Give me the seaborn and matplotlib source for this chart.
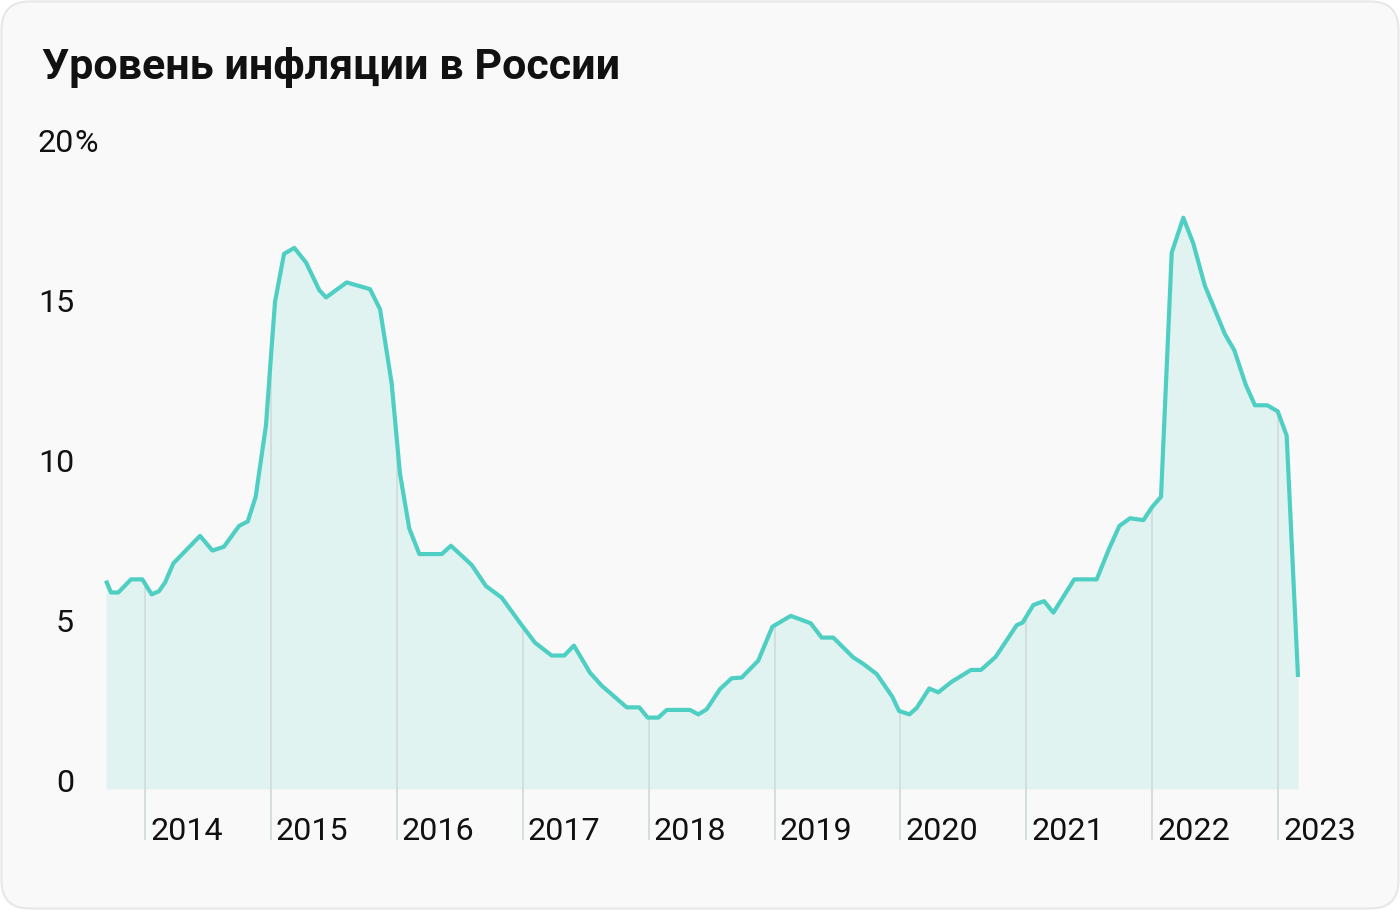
import numpy as np
import pandas as pd
import matplotlib.pyplot as plt
import matplotlib.transforms as mtransforms
from matplotlib.patches import FancyBboxPatch
import seaborn as sns

# Inflation in Russia, % y/y
dates = [2013.690, 2013.730, 2013.788, 2013.889, 2013.979, 2014.053, 2014.111, 2014.159,
         2014.225, 2014.437, 2014.535, 2014.627, 2014.747, 2014.816, 2014.879, 2014.961,
         2015.006, 2015.033, 2015.104, 2015.186, 2015.279, 2015.384, 2015.438, 2015.602,
         2015.787, 2015.867, 2015.959, 2016.025, 2016.099, 2016.179, 2016.357, 2016.430,
         2016.595, 2016.708, 2016.833, 2016.992, 2017.098, 2017.230, 2017.330, 2017.407,
         2017.535, 2017.627, 2017.826, 2017.926, 2017.993, 2018.077, 2018.144, 2018.329,
         2018.395, 2018.461, 2018.567, 2018.660, 2018.739, 2018.871, 2018.983, 2019.129,
         2019.287, 2019.375, 2019.467, 2019.626, 2019.705, 2019.812, 2019.936, 2019.989,
         2020.071, 2020.129, 2020.229, 2020.301, 2020.407, 2020.561, 2020.640, 2020.757,
         2020.924, 2020.971, 2021.056, 2021.141, 2021.215, 2021.381, 2021.559, 2021.659,
         2021.739, 2021.824, 2021.930, 2022.001, 2022.070, 2022.155, 2022.247, 2022.326,
         2022.419, 2022.578, 2022.652, 2022.743, 2022.816, 2022.914, 2022.997, 2023.068,
         2023.158]
inflation = [6.23, 5.86, 5.86, 6.27, 6.27, 5.80, 5.90, 6.17,
             6.77, 7.63, 7.17, 7.29, 7.94, 8.08, 8.85, 11.09,
             13.54, 14.95, 16.44, 16.63, 16.17, 15.31, 15.08, 15.55,
             15.34, 14.71, 12.40, 9.58, 7.86, 7.06, 7.06, 7.32,
             6.72, 6.06, 5.70, 4.84, 4.29, 3.89, 3.89, 4.20,
             3.35, 2.95, 2.27, 2.27, 1.95, 1.95, 2.19, 2.19,
             2.05, 2.21, 2.84, 3.18, 3.20, 3.73, 4.79, 5.13,
             4.90, 4.45, 4.45, 3.83, 3.63, 3.31, 2.60, 2.16,
             2.05, 2.25, 2.86, 2.74, 3.07, 3.44, 3.44, 3.85,
             4.84, 4.92, 5.47, 5.59, 5.23, 6.27, 6.27, 7.24,
             7.94, 8.18, 8.12, 8.54, 8.85, 16.48, 17.57, 16.77,
             15.44, 13.93, 13.43, 12.35, 11.71, 11.71, 11.52, 10.76,
             3.22]
years = [2014, 2015, 2016, 2017, 2018, 2019, 2020, 2021, 2022, 2023]
y_ticks = [0, 5, 10, 15, 20]
y_labels = ["0", "5", "10", "15", "20"]
title = "Уровень инфляции в России"

df = pd.DataFrame({"date": dates, "inflation": inflation})

LINE = "#4fcfc3"
FILL = "#e0f3f0"
GRID = "#d2dcdb"
CARD = "#f9f9f9"

sns.set_theme(style="white")
plt.rcParams["font.family"] = ["Roboto", "DejaVu Sans"]

fig = plt.figure(figsize=(14, 9.1), dpi=100)
fig.patch.set_facecolor("white")

# rounded card background
card = FancyBboxPatch((1.5 / 1400, 1.5 / 910), 1 - 3 / 1400, 1 - 3 / 910,
                      boxstyle="round,pad=0,rounding_size=0.02",
                      transform=fig.transFigure, facecolor=CARD, edgecolor="#e7e7e7",
                      linewidth=1.5, mutation_aspect=1400 / 910, zorder=-10)
fig.patches.append(card)

W, H = 1400, 910
ax = fig.add_axes([90 / W, (H - 850) / H, 1290 / W, 730 / H])
ax.set_zorder(1)
ax.patch.set_alpha(0)
ax.set_xlim(2013.5631, 2023.8093)
ax.set_ylim(-2.1875, 20.625)
for s in ax.spines.values():
    s.set_visible(False)

base = -0.28
label_y = -1.875
fs = 23.2

ax.fill_between(df["date"], base, df["inflation"], color=FILL, linewidth=0, zorder=1)

# year separators from the labels up to the curve
tops = np.interp(years, df["date"], df["inflation"])
ax.vlines(years, label_y, tops, color=GRID, linewidth=1.3, zorder=2)

sns.lineplot(data=df, x="date", y="inflation", sort=False, ax=ax, color=LINE,
             linewidth=3, zorder=3)
ax.lines[-1].set_solid_capstyle("butt")

ax.set_xticks([])
ax.set_yticks(y_ticks)
ax.set_yticklabels(y_labels)
ax.tick_params(axis="y", length=0, pad=11.5, labelsize=fs, labelcolor="#111111")
ax.set_xlabel("")
ax.set_ylabel("")

# "%" after the top label
ax.annotate("%", xy=(0, 20), xycoords=("axes fraction", "data"),
            xytext=(-11.2, 0), textcoords="offset points",
            ha="left", va="center_baseline", fontsize=fs, color="#111111")

shift = mtransforms.offset_copy(ax.transData, fig=fig, x=5, y=0, units="dots")
for yr in years:
    ax.text(yr, label_y, str(yr), transform=shift, ha="left", va="baseline",
            fontsize=fs, color="#111111")

fig.text(42 / W, 1 - 79 / H, title, ha="left", va="baseline",
         fontsize=31, fontweight="bold", color="#111111")

fig.savefig("out.png", dpi=100)
